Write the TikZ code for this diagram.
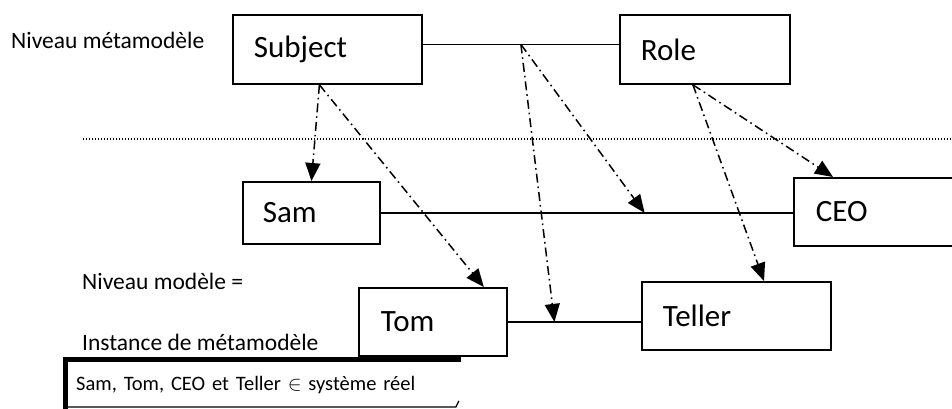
\documentclass[tikz,border=0pt]{standalone}
\usepackage{fontspec}
\setmainfont{Carlito}
\usetikzlibrary{arrows.meta,calc}
\begin{document}
\begin{tikzpicture}[x=1pt,y=-1pt,
  box/.style={draw, line width=1.8pt, anchor=north west, inner ysep=0pt,
    align=left, font=\fontsize{31}{36}\selectfont},
  side/.style={anchor=base west, inner sep=0pt, font=\fontsize{23.5}{28}\selectfont},
  link/.style={line width=1.6pt},
  inst/.style={line width=1.5pt, dash pattern=on 9pt off 4pt on 1.6pt off 4pt,
    -{Triangle[length=18pt,width=15pt]}},
  sep/.style={line width=1.4pt, dash pattern=on 1.3pt off 1.7pt}
]
\useasboundingbox (0,0) rectangle (952,409);

% level labels
\node[side] (lvlmeta) at (11,49) {Niveau métamodèle};
\node[side] (lvlmodel) at (82,289) {Niveau modèle =};
\node[side] (lvlinst) at (82,350) {Instance de métamodèle};

% separator between the two levels
\coordinate (sepL) at (83,139);
\coordinate (sepR) at (952,139);
\draw[sep] (sepL) -- (sepR);

% metamodel level
\node[box, inner xsep=21pt, text width=147pt, minimum height=69pt] (subject) at (232,14) {Subject};
\node[box, inner xsep=21pt, text width=128pt, minimum height=69pt] (role) at (619,14) {Role};
\coordinate (subjR) at ([yshift=5pt]subject.east);
\draw[link] (subjR) -- (subjR -| role.west);
\path (subjR) -- (subjR -| role.west) coordinate[pos=0.5] (metalink);

% model level
\node[box, inner xsep=20pt, text width=97pt, minimum height=62pt] (sam) at (242,181) {Sam};
\node[box, inner xsep=22pt, text width=133pt, minimum height=68pt] (ceo) at (793,177) {CEO};
\node[box, inner xsep=22pt, text width=104pt, minimum height=68pt] (tom) at (358,287) {Tom};
\node[box, inner xsep=21pt, text width=147pt, minimum height=68pt] (teller) at (641,281) {Teller};

\draw[link] (sam.east) -- (sam.east -| ceo.west);
\path (sam.east) -- (sam.east -| ceo.west) coordinate[pos=0.64] (samceo);
\draw[link] (tom.east) -- (tom.east -| teller.west);
\path (tom.east) -- (tom.east -| teller.west) coordinate[pos=0.35] (tomteller);

% instantiation arrows
\coordinate (subjOut) at ([xshift=-8pt]subject.south);
\coordinate (roleOut) at ([xshift=-12pt]role.south);
\draw[inst] (subjOut) -- (sam.north);
\draw[inst] (subjOut) -- ([xshift=-24pt]tom.north east);
\draw[inst] (metalink) -- (samceo);
\draw[inst] (metalink) -- (tomteller);
\draw[inst] (roleOut) -- ([xshift=40pt]ceo.north west);
\draw[inst] (roleOut) -- ([xshift=123pt]teller.north west);

% note at the bottom
\node[anchor=north west, inner xsep=10.5pt, inner ysep=0pt, minimum height=50pt,
  text width=372pt, align=left, font=\fontsize{20.5}{25}\selectfont] (note) at (65.5,359.5)
  {Sam, Tom, CEO et Teller $\in$ système réel};
\draw[line width=5pt] (note.south west) -- (note.north west) -- ([xshift=2.5pt]note.north east);
\draw[line width=1.2pt] ([yshift=3pt]note.south west) -- ([yshift=3pt,xshift=-3pt]note.south east) -- ([yshift=9pt]note.south east);
\end{tikzpicture}
\end{document}
